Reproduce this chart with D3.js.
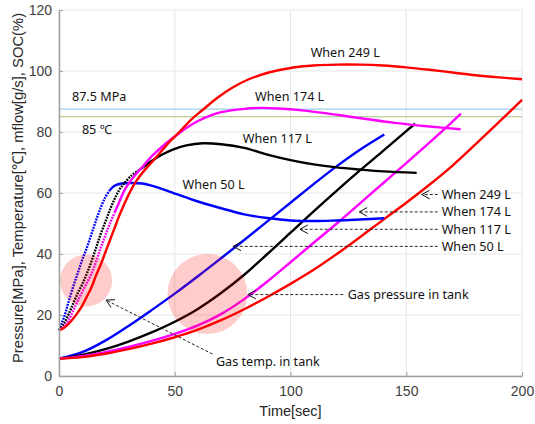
<!DOCTYPE html>
<html>
<head>
<meta charset="utf-8">
<script src="https://cdn.jsdelivr.net/npm/d3@7"></script>
<style>
  body { margin: 0; background: #fff; }
  text { font-family: "Liberation Sans", Arial, sans-serif; }
  .note { font-family: "Noto Sans", sans-serif; font-size: 12.6px; fill: #111; }
</style>
</head>
<body>
<div id="chart"></div>
<script>
// tank temperature [t (sec), value]
const temp50L = [[0,15],[1,17],[2.5,20],[4,24],[6,29],[8,33.5],[10,38],[12,42],[14,46.5],[16,51],[18,55.2],[20,58.6],[22,61],[24,62.4],[27,63.1],[31,63.3],[36,63.1],[40,62.4],[48,60.4],[58,57.7],[70,55],[80,53],[90,51.8],[100,51],[110,50.8],[120,51],[130,51.3],[140.5,51.7]]
const temp117L = [[0,15],[2,17],[4,20],[6,23.5],[8,27],[10,30],[12,33.5],[14,37.5],[16,42],[18,46.5],[20,50.5],[22,54.5],[24,58],[26,61],[28,63],[31,65.5],[35,67.7],[40,70.5],[45,72.8],[50,74.5],[55,75.6],[62,76.3],[70,76],[80,74.8],[90,72.6],[100,70.8],[110,69.4],[120,68.4],[130,67.7],[140,67.1],[154.5,66.6]]
const temp174L = [[0,15],[2,16],[4,18],[6,21.2],[8,24.5],[10,27.5],[12,30.5],[14,33.5],[16,37.5],[18,42],[20,46],[22,50],[24,53.5],[26,57],[28,60.5],[30,63],[33,66],[36,68.5],[40,72],[45,75.5],[50,78.5],[55,81.3],[60,83.6],[65,85.3],[70,86.5],[80,87.6],[88,87.9],[95,87.7],[105,87.1],[115,86.2],[125,85.1],[135,84],[145,83],[160,81.8],[173.5,80.9]]
const temp249L = [[0,15],[2,15.7],[4,17],[6,18.7],[8,20.7],[10,23],[12,26],[14,29],[16,33],[18,36.5],[20,40.5],[22,44.5],[24,48.5],[26,52.5],[28,56],[30,59.3],[33,63.5],[37,67.5],[40,70],[44,73.5],[48,77],[52,80],[57,84],[62,87.2],[68,91],[75,94.6],[82,97.3],[91,99.6],[100,101],[110,101.8],[120,102.1],[130,102.1],[140,101.8],[150,101.2],[160,100.4],[170,99.5],[180,98.6],[190,97.9],[200,97.3]]

// tank pressure [t (sec), MPa]
const pres50L = [[0,5.7],[10,7.8],[20,11.6],[30,16.4],[40,21.6],[50,27],[60,32.7],[70,38.6],[80,44.6],[90,50.7],[100,56.8],[110,62.9],[120,68.8],[130,74.2],[140.5,79.2]]
const pres117L = [[0,5.7],[10,6.9],[20,8.8],[30,11.3],[40,14.3],[50,17.8],[60,22],[70,27.2],[80,33.2],[90,40],[100,47],[110,54],[120,60.8],[130,67.4],[140,73.8],[150,80.3],[153.8,82.7]]
const pres174L = [[0,5.7],[10,6.5],[20,7.8],[30,9.5],[40,11.5],[50,13.8],[60,16.6],[70,20.3],[80,25.2],[90,31],[100,37.3],[110,43.7],[120,50],[130,56.6],[140,63.2],[150,69.8],[160,76.5],[170,83.4],[173.6,86]]
const pres249L = [[0,5.7],[10,6.2],[20,7.3],[30,8.8],[40,10.6],[50,12.7],[60,15.2],[70,18.3],[80,21.9],[90,25.9],[100,30.2],[110,34.8],[120,40],[130,45.5],[140,51.2],[150,56.8],[160,62.7],[170,69],[180,76],[190,83.2],[200,90.5]]

const seriesNames = ['50 L', '117 L', '174 L', '249 L']
const seriesColors = ['#0000ff', '#000000', '#ff00ff', '#ff0000']
const tempSeries = [temp50L, temp117L, temp174L, temp249L]
const presSeries = [pres50L, pres117L, pres174L, pres249L]
// early part of temperature curve drawn dotted (sec)
const dottedUntil = [22, 35, 24, 0]

const xTicks = [0, 50, 100, 150, 200]
const yTicks = [0, 20, 40, 60, 80, 100, 120]
const limitPressure = 87.5
const limitTemp = 85

// label text with [t, value] anchor
const curveLabels = [
  { text: 'When 249 L', at: [108.7, 105.9] },
  { text: 'When 174 L', at: [84.7, 91.6] },
  { text: 'When 117 L', at: [79.4, 77.9] },
  { text: 'When 50 L', at: [53.4, 62.6] },
  { text: '87.5 MPa', at: [5.6, 91.5] },
  { text: '85 \u2103', at: [9.9, 80.7] },
]
// arrow notes: text at, dashed line from -> arrow head
const arrowNotes = [
  { text: 'When 249 L', at: [165.3, 59.5], from: [163.6, 59.5], head: [156.7, 59.5] },
  { text: 'When 174 L', at: [165.3, 53.8], from: [163.6, 53.8], head: [129.7, 53.8] },
  { text: 'When 117 L', at: [165.3, 48.1], from: [163.6, 48.1], head: [104.1, 48.1] },
  { text: 'When 50 L', at: [165.3, 42.5], from: [163.6, 42.5], head: [75.2, 42.5] },
  { text: 'Gas pressure in tank', at: [124.7, 26.7], from: [122.8, 26.7], head: [81.6, 26.7] },
  { text: 'Gas temp. in tank', at: [67.8, 4.7], from: [66.3, 7.2], head: [20.3, 24.9] },
]
// highlight circles [t, value, radius px]
const highlights = [[11.7, 31.3, 26], [64.1, 26.9, 40]]

const params = {
  width: 535,
  height: 424,
  marginTop: 10,
  marginBottom: 48,
  marginLeft: 59,
  marginRight: 13,
}

const svg = d3.select('#chart')
  .append('svg')
  .attr('width', params.width)
  .attr('height', params.height)

const x = d3.scaleLinear()
  .domain([0, 200])
  .range([params.marginLeft, params.width - params.marginRight])

const y = d3.scaleLinear()
  .domain([0, 120])
  .range([params.height - params.marginBottom, params.marginTop])

// grid
const grid = svg.append('g').attr('stroke', '#e6e6e6').attr('stroke-width', 1)
grid.selectAll('.gx').data(xTicks).enter().append('line')
  .attr('x1', d => x(d)).attr('x2', d => x(d))
  .attr('y1', y(0)).attr('y2', y(120))
grid.selectAll('.gy').data(yTicks).enter().append('line')
  .attr('x1', x(0)).attr('x2', x(200))
  .attr('y1', d => y(d)).attr('y2', d => y(d))

// limit lines
svg.append('line')
  .attr('x1', x(0)).attr('x2', x(200))
  .attr('y1', y(limitPressure)).attr('y2', y(limitPressure))
  .attr('stroke', '#9fd0ee').attr('stroke-width', 1.2)
svg.append('line')
  .attr('x1', x(0)).attr('x2', x(200))
  .attr('y1', y(limitTemp)).attr('y2', y(limitTemp))
  .attr('stroke', '#a9c27d').attr('stroke-width', 1.2)

const line = d3.line()
  .x(d => x(d[0]))
  .y(d => y(d[1]))
  .curve(d3.curveCatmullRom.alpha(0.5))

const curves = svg.append('g').attr('fill', 'none')

presSeries.forEach((s, i) => {
  curves.append('path')
    .attr('d', line(s))
    .attr('stroke', seriesColors[i])
    .attr('stroke-width', 2.4)
})

tempSeries.forEach((s, i) => {
  const cut = dottedUntil[i]
  const early = s.filter(d => d[0] <= cut)
  const late = s.filter(d => d[0] >= cut)
  if (early.length > 1) {
    curves.append('path')
      .attr('d', line(early))
      .attr('stroke', seriesColors[i])
      .attr('stroke-width', 2.4)
      .attr('stroke-dasharray', '1.8,1.1')
  }
  curves.append('path')
    .attr('d', line(late))
    .attr('stroke', seriesColors[i])
    .attr('stroke-width', 2.4)
})

// highlight circles on top
svg.selectAll('.hl')
  .data(highlights)
  .enter()
  .append('circle')
  .attr('cx', d => x(d[0]))
  .attr('cy', d => y(d[1]))
  .attr('r', d => d[2])
  .attr('fill', '#ff0000')
  .attr('opacity', 0.2)

// axes
const xAxis = svg.append('g')
  .attr('transform', `translate(0,${y(0)})`)
  .call(d3.axisBottom(x).tickValues(xTicks).tickSizeInner(-4).tickSizeOuter(0).tickPadding(10))
const yAxis = svg.append('g')
  .attr('transform', `translate(${x(0)},0)`)
  .call(d3.axisLeft(y).tickValues(yTicks).tickSizeInner(-4).tickSizeOuter(0).tickPadding(7))

;[xAxis, yAxis].forEach(a => {
  a.select('.domain').attr('stroke', '#a0a0a0').attr('stroke-width', 1.5)
  a.selectAll('.tick line').attr('stroke', '#a0a0a0')
  a.selectAll('.tick text').attr('fill', '#404040')
    .style('font-size', '14px')
    .style('font-family', '"Liberation Sans", Arial, sans-serif')
})

svg.append('text')
  .attr('x', x(100)).attr('y', 416)
  .attr('text-anchor', 'middle')
  .attr('fill', '#262626')
  .style('font-size', '14.5px')
  .text('Time[sec]')

svg.append('text')
  .attr('transform', `translate(23,188) rotate(-90)`)
  .attr('text-anchor', 'middle')
  .attr('fill', '#262626')
  .style('font-size', '14.8px')
  .text('Pressure[MPa], Temperature[\u2103], mflow[g/s], SOC(%)')

// curve labels
svg.selectAll('.cl')
  .data(curveLabels)
  .enter()
  .append('text')
  .attr('class', 'note')
  .attr('x', d => x(d.at[0]))
  .attr('y', d => y(d.at[1]))
  .attr('dy', '0.35em')
  .text(d => d.text)

// arrow notes
const notes = svg.append('g')
arrowNotes.forEach(n => {
  const x1 = x(n.from[0]), y1 = y(n.from[1])
  const x2 = x(n.head[0]), y2 = y(n.head[1])
  notes.append('line')
    .attr('x1', x1).attr('y1', y1).attr('x2', x2).attr('y2', y2)
    .attr('stroke', '#111').attr('stroke-width', 0.9)
    .attr('stroke-dasharray', '3,2')
  const ang = Math.atan2(y1 - y2, x1 - x2)
  const len = 9, spread = 0.5
  const p1 = [x2 + len * Math.cos(ang + spread), y2 + len * Math.sin(ang + spread)]
  const p2 = [x2 + len * Math.cos(ang - spread), y2 + len * Math.sin(ang - spread)]
  notes.append('path')
    .attr('d', `M${p1[0]},${p1[1]}L${x2},${y2}L${p2[0]},${p2[1]}`)
    .attr('fill', 'none')
    .attr('stroke', '#111').attr('stroke-width', 1)
  notes.append('text')
    .attr('class', 'note')
    .attr('x', x(n.at[0]))
    .attr('y', y(n.at[1]))
    .attr('dy', '0.35em')
    .text(n.text)
})
</script>
</body>
</html>
